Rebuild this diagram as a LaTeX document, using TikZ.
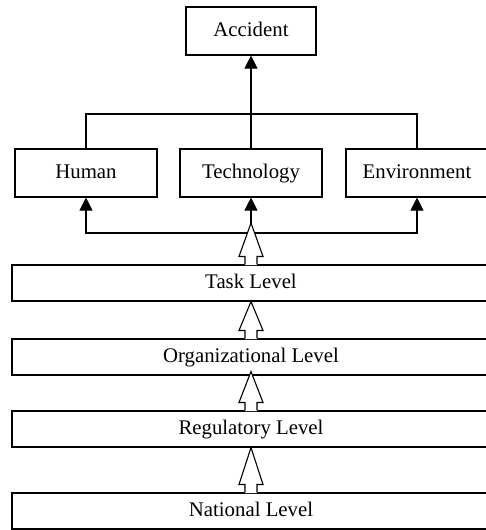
\documentclass[tikz,border=0pt]{standalone}
\usepackage{fontspec}
\setmainfont{Liberation Serif}
\usetikzlibrary{arrows.meta,calc}

\tikzset{
  factor/.style={draw, minimum width=71pt, minimum height=24pt, inner sep=0pt,
    text height=1.6ex, text depth=.4ex},
  level/.style={draw, minimum width=239pt, minimum height=18pt, inner sep=0pt,
    text height=1.6ex, text depth=.4ex},
  link/.style={-{Triangle[length=6.5pt,width=6.5pt]}},
}
% hollow block arrow: #1 base (on a box top), #2 tip
\newcommand{\hollowup}[2]{%
  \fill[white] let \p1=(#1), \p2=(#2) in
    (\x1-3pt,\y1-0.3pt) -- (\x1-3pt,\y1+4pt) -- (\x1-6pt,\y1+4pt) -- (\x1,\y2)
    -- (\x1+6pt,\y1+4pt) -- (\x1+3pt,\y1+4pt) -- (\x1+3pt,\y1-0.3pt) -- cycle;
  \draw[line join=miter] let \p1=(#1), \p2=(#2) in
    (\x1-3pt,\y1) -- (\x1-3pt,\y1+4pt) -- (\x1-6pt,\y1+4pt) -- (\x1,\y2)
    -- (\x1+6pt,\y1+4pt) -- (\x1+3pt,\y1+4pt) -- (\x1+3pt,\y1);
}

\begin{document}
\begin{tikzpicture}[x=0.5pt,y=-0.5pt,line width=0.55pt,font=\fontsize{10.4}{12}\selectfont]
    \useasboundingbox (0,0) rectangle (486,530);
    % Top
    \node[factor,minimum width=65pt] (acc) at (251,31) {Accident};
    % Factors
    \node[factor] (hum) at (86,173) {Human};
    \node[factor] (tech) at (251,173) {Technology};
    \node[factor] (env) at (417,173) {Environment};
    % Levels
    \node[level] (task) at (251,283) {Task Level};
    \node[level] (org) at (251,357) {Organizational Level};
    \node[level] (reg) at (251,429) {Regulatory Level};
    \node[level] (nat) at (251,511) {National Level};
    % Connectors
    \coordinate (join) at (251,114);
    \coordinate (fork) at (251,233);
    \coordinate (tip) at (251,223);
    \draw[link] (tech.north) -- (acc.south);
    \draw (hum.north) |- (join) -| (env.north);
    \draw[link] (fork) -| (hum.south);
    \draw[link] (fork) -| (env.south);
    \draw[link] (fork) -- (tech.south);
    % Block arrows
    \hollowup{task.north}{tip}
    \hollowup{org.north}{task.south}
    \hollowup{reg.north}{$(org.south)+(0,-4)$}
    \hollowup{nat.north}{reg.south}
\end{tikzpicture}
\end{document}
